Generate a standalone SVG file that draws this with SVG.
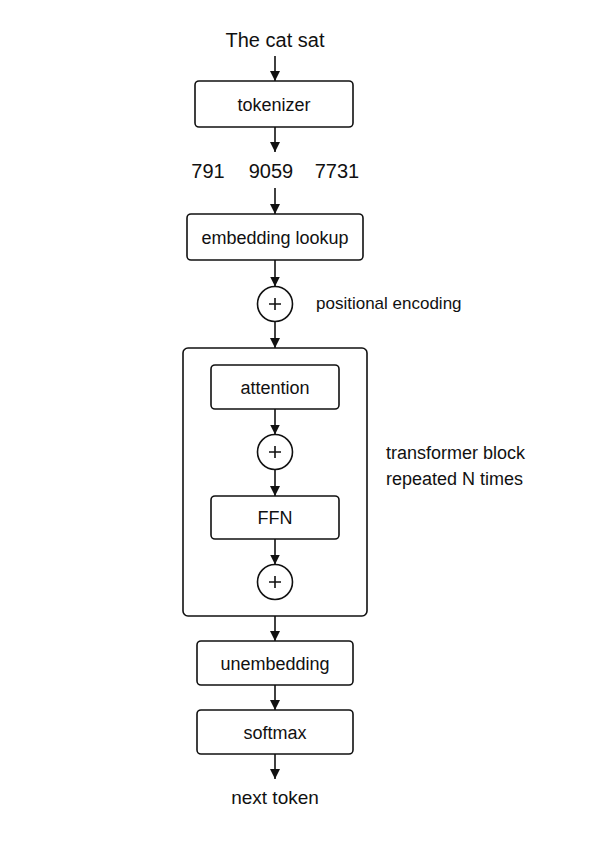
<svg xmlns="http://www.w3.org/2000/svg" width="593" height="850" viewBox="0 0 593 850">
<style>
.box{fill:#fff;stroke:#111;stroke-width:1.6}
.sum{fill:#fff;stroke:#111;stroke-width:1.6}
.plus{stroke:#111;stroke-width:1.6}
.lbl{font-family:"Liberation Sans",Arial,sans-serif;font-size:18px;fill:#111;text-anchor:middle}
.side{font-family:"Liberation Sans",Arial,sans-serif;font-size:17px;fill:#111}
.edge{stroke:#111;stroke-width:1.6;fill:none;marker-end:url(#ah)}
</style>
<defs>
<marker id="ah" viewBox="0 0 10 10" refX="10" refY="5" markerWidth="10" markerHeight="10" markerUnits="userSpaceOnUse" orient="auto">
<path d="M0,0 L10,5 L0,10 z" fill="#111"/>
</marker>
</defs>
<rect width="593" height="850" fill="#fff"/>
<g id="input"><text class="lbl" x="275" y="47" style="font-size:20px">The cat sat</text></g>
<g id="tokenizer"><rect class="box" x="195" y="81" width="158" height="46" rx="4"/><text class="lbl" x="274" y="111">tokenizer</text></g>
<g id="tokens">
<text class="lbl" x="208" y="178" style="font-size:20px">791</text>
<text class="lbl" x="271" y="178" style="font-size:20px">9059</text>
<text class="lbl" x="337" y="178" style="font-size:20px">7731</text>
</g>
<g id="embedding"><rect class="box" x="187" y="214" width="176" height="46" rx="4"/><text class="lbl" x="275" y="244">embedding lookup</text></g>
<g id="posenc"><circle class="sum" cx="275" cy="304" r="17.5"/><path class="plus" d="M269,304 H281 M275,298 V310"/></g>
<g id="posenc-label"><text class="side" x="316" y="309">positional encoding</text></g>
<g id="block"><rect class="box" x="183" y="348" width="184" height="268" rx="5"/></g>
<g id="attention"><rect class="box" x="211" y="365" width="128" height="44" rx="4"/><text class="lbl" x="275" y="394">attention</text></g>
<g id="add1"><circle class="sum" cx="275" cy="452" r="17.5"/><path class="plus" d="M269,452 H281 M275,446 V458"/></g>
<g id="ffn"><rect class="box" x="211" y="496" width="128" height="43" rx="4"/><text class="lbl" x="275" y="524">FFN</text></g>
<g id="add2"><circle class="sum" cx="275" cy="582" r="17.5"/><path class="plus" d="M269,582 H281 M275,576 V588"/></g>
<g id="block-label"><text class="side" x="386" y="459" style="font-size:18px">transformer block</text><text class="side" x="386" y="485" style="font-size:18px">repeated N times</text></g>
<g id="unembedding"><rect class="box" x="197" y="641" width="156" height="44" rx="4"/><text class="lbl" x="275" y="670">unembedding</text></g>
<g id="softmax"><rect class="box" x="197" y="710" width="156" height="44" rx="4"/><text class="lbl" x="275" y="739">softmax</text></g>
<g id="output"><text class="lbl" x="275" y="804" style="font-size:19px">next token</text></g>
<g id="connectors">
<line class="edge" x1="275" y1="56" x2="275" y2="81"/>
<line class="edge" x1="275" y1="127" x2="275" y2="152"/>
<line class="edge" x1="275" y1="188" x2="275" y2="214"/>
<line class="edge" x1="275" y1="260" x2="275" y2="286.5"/>
<line class="edge" x1="275" y1="321.5" x2="275" y2="348"/>
<line class="edge" x1="275" y1="409" x2="275" y2="434.5"/>
<line class="edge" x1="275" y1="469.5" x2="275" y2="496"/>
<line class="edge" x1="275" y1="539" x2="275" y2="564.5"/>
<line class="edge" x1="275" y1="616" x2="275" y2="641"/>
<line class="edge" x1="275" y1="685" x2="275" y2="710"/>
<line class="edge" x1="275" y1="754" x2="275" y2="779"/>
</g>
</svg>
